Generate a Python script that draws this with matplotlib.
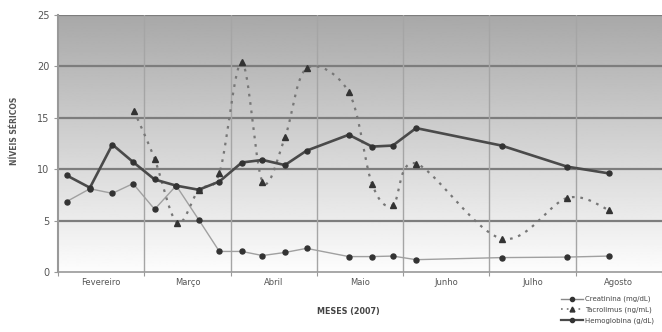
import numpy as np
import matplotlib
matplotlib.use("Agg")
import matplotlib.pyplot as plt
from matplotlib.lines import Line2D

months = ["Fevereiro", "Março", "Abril", "Maio", "Junho", "Julho", "Agosto"]

# x positions in month units (0 = start of Fevereiro)
x_hb = [0.10, 0.37, 0.63, 0.87, 1.12, 1.37, 1.63, 1.87, 2.13, 2.37, 2.63, 2.88,
        3.37, 3.64, 3.88, 4.15, 5.14, 5.90, 6.38]
hemoglobina = [9.4, 8.2, 12.4, 10.7, 9.0, 8.4, 8.0, 8.8, 10.65, 10.9, 10.4, 11.8,
               13.35, 12.2, 12.3, 14.0, 12.3, 10.25, 9.6]

x_cr = [0.10, 0.37, 0.63, 0.87, 1.12, 1.37, 1.63, 1.87, 2.13, 2.37, 2.63, 2.88,
        3.37, 3.64, 3.88, 4.15, 5.14, 5.90, 6.38]
creatinina = [6.85, 8.1, 7.65, 8.6, 6.1, 8.4, 5.1, 2.0, 2.0, 1.6, 1.9, 2.3,
              1.5, 1.5, 1.55, 1.2, 1.4, 1.45, 1.55]

x_tac = [0.88, 1.12, 1.38, 1.63, 1.87, 2.13, 2.37, 2.63, 2.88,
         3.37, 3.64, 3.88, 4.15, 5.14, 5.90, 6.38]
tacrolimus = [15.7, 11.0, 4.8, 8.0, 9.6, 20.4, 8.8, 13.1, 19.8,
              17.5, 8.55, 6.5, 10.55, 3.25, 7.2, 6.05]


def smooth(xs, ys, n=30):
    # Excel-style smoothed line (Catmull-Rom cubic Bezier)
    P = np.column_stack([xs, ys]).astype(float)
    out = [P[0]]
    for i in range(len(P) - 1):
        p0 = P[i - 1] if i > 0 else P[i]
        p1, p2 = P[i], P[i + 1]
        p3 = P[i + 2] if i + 2 < len(P) else P[i + 1]
        c1 = p1 + (p2 - p0) / 6.0
        c2 = p2 - (p3 - p1) / 6.0
        t = np.linspace(0, 1, n)[1:, None]
        seg = ((1 - t) ** 3) * p1 + 3 * ((1 - t) ** 2) * t * c1 + 3 * (1 - t) * t ** 2 * c2 + t ** 3 * p2
        out.extend(seg)
    out = np.array(out)
    return out[:, 0], out[:, 1]


fig = plt.figure(figsize=(6.62, 3.32), dpi=100)
ax = fig.add_axes([58 / 662, 1 - 272 / 332, (662 - 58) / 662, (272 - 15) / 332])

# gradient background
grad = np.linspace(0.99, 0.66, 256)[:, None]
ax.imshow(grad, extent=[0, 7, 0, 25], origin="lower", aspect="auto",
          cmap="gray", vmin=0, vmax=1, zorder=0)

ax.set_xlim(0, 7)
ax.set_ylim(0, 25)

for yv in [5, 10, 15, 20, 25]:
    ax.axhline(yv, color="#7d7d7d", lw=1.6, zorder=1)
for xv in range(1, 7):
    ax.axvline(xv, color="#a5a5a5", lw=1.0, zorder=1)

# creatinina
ax.plot(x_cr, creatinina, color="#a0a0a0", lw=1.0, marker="o", ms=3.6,
        mfc="#333333", mec="#333333", zorder=3)
# tacrolimus (smoothed dotted)
sx, sy = smooth(x_tac, tacrolimus)
ax.plot(sx, sy, color="#777777", lw=1.6, ls=(0, (1.2, 2.6)), zorder=4)
ax.plot(x_tac, tacrolimus, ls="none", marker="^", ms=4.2, mfc="#333333",
        mec="#333333", zorder=5)
# hemoglobina
ax.plot(x_hb, hemoglobina, color="#4a4a4a", lw=1.9, marker="o", ms=3.6,
        mfc="#333333", mec="#333333", zorder=6)

ax.set_yticks([0, 5, 10, 15, 20, 25])
ax.set_yticklabels(["0", "5", "10", "15", "20", "25"], fontsize=7, color="#555555")
ax.set_xticks(range(0, 8))
ax.set_xticklabels([])
ax.set_xticks([i + 0.5 for i in range(7)], minor=True)
ax.set_xticklabels(months, minor=True, fontsize=6, color="#555555")
ax.tick_params(axis="x", which="minor", length=0, pad=4)
ax.tick_params(axis="x", which="major", length=3, color="#999999")
ax.tick_params(axis="y", length=3, color="#999999", pad=3)

for s in ["top", "right"]:
    ax.spines[s].set_visible(False)
ax.spines["left"].set_color("#999999")
ax.spines["bottom"].set_color("#999999")
ax.spines["left"].set_linewidth(1.5)
ax.spines["bottom"].set_linewidth(1.2)

ax.set_ylabel("NÍVEIS SÉRICOS", fontsize=5.5, fontweight="bold", color="#555555")
ax.yaxis.set_label_coords(-0.065, 0.55)
ax.set_xlabel("MESES (2007)", fontsize=5.8, fontweight="bold", color="#444444")
ax.xaxis.set_label_coords(0.48, -0.135)

handles = [
    Line2D([], [], color="#888888", lw=1.0, marker="o", ms=3, mfc="#333333", mec="#333333"),
    Line2D([], [], color="#777777", lw=1.2, ls=(0, (1, 2.5)), marker="^", ms=3.5,
           mfc="#333333", mec="#333333"),
    Line2D([], [], color="#4a4a4a", lw=1.6, marker="o", ms=3, mfc="#333333", mec="#333333"),
]
labels = ["Creatinina (mg/dL)", "Tacrolimus (ng/mL)", "Hemoglobina (g/dL)"]
fig.legend(handles, labels, loc="lower right", bbox_to_anchor=(0.995, 0.01),
           fontsize=5, frameon=False, handlelength=3.2, labelspacing=0.6,
           handletextpad=0.3, borderaxespad=0.3, labelcolor="#444444")

fig.savefig("out.png", dpi=100, facecolor="white")
